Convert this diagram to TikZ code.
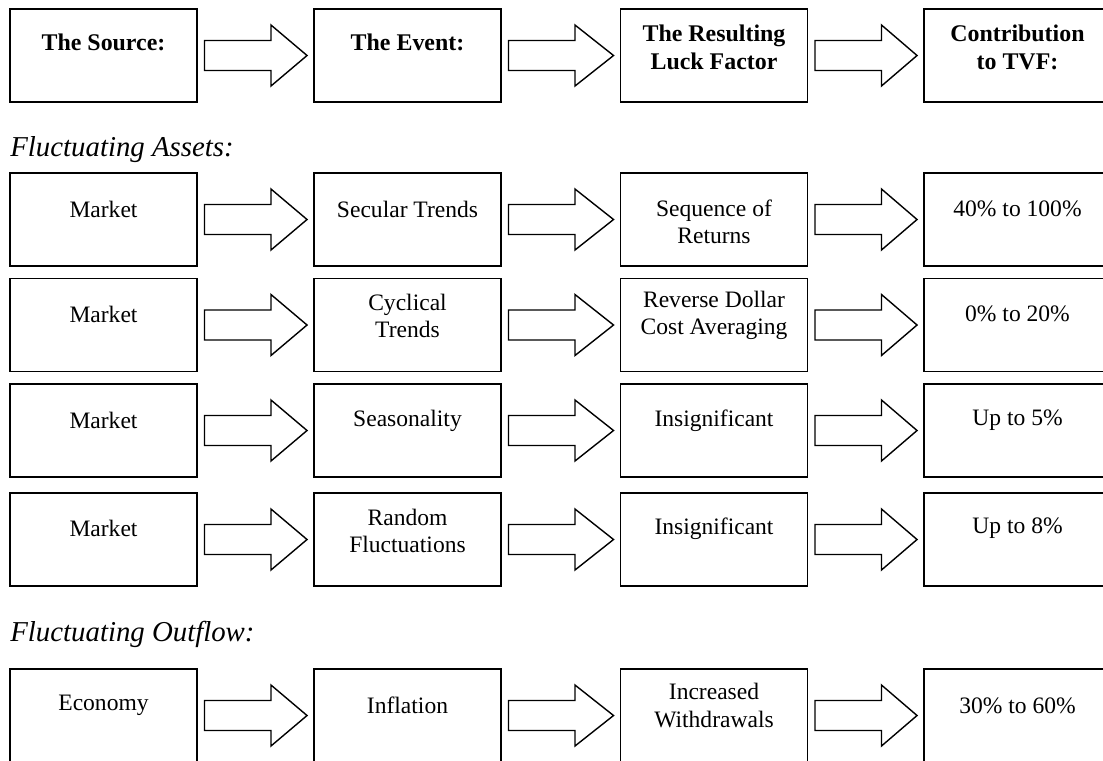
\documentclass[tikz,border=0pt]{standalone}
\usepackage{fontspec}
\setmainfont{Liberation Serif}
\usetikzlibrary{positioning,calc}

% hollow block arrow from the east side of one box to the west side of the next
\newcommand{\blockarrow}[2]{%
  \draw[barrow] ($(#1.east)+(0.13,0.3)$) -- ++(1.33,0) -- ++(0,0.31)
    -- ($(#2.west)+(-0.12,0)$) -- ($(#1.east)+(1.46,-0.61)$) -- ++(0,0.31)
    -- ($(#1.east)+(0.13,-0.3)$) -- cycle;}

\begin{document}
\begin{tikzpicture}[
    box/.style={draw=black, line width=1.1pt, minimum width=3.74cm, minimum height=1.86cm, inner sep=0pt},
    txt/.style={font=\fontsize{13.4}{15.4}\selectfont, align=center, inner sep=0pt},
    head/.style={font=\fontsize{13.6}{15.8}\selectfont\bfseries, align=center, inner sep=0pt},
    sect/.style={font=\fontsize{16.4}{19}\selectfont\itshape, anchor=base west, inner sep=0pt},
    barrow/.style={draw=black, line width=0.8pt, line join=miter}
  ]
  \useasboundingbox (0,0) rectangle (22.06,-15.2);

  % four boxes per row: source, event, luck factor, contribution
  \foreach \r/\y in {0/-1.11,1/-4.39,2/-6.50,3/-8.61,4/-10.79,5/-14.31} {
    \node[box] (s\r) at (2.07,\y) {};
    \node[box] (e\r) at (8.15,\y) {};
    \node[box] (l\r) at (14.28,\y) {};
    \node[box] (c\r) at (20.35,\y) {};
  }

  % header
  \node[head] (s0t) at ([yshift=0.27cm]s0.center) {The Source:};
  \node[head] (e0t) at ([yshift=0.27cm]e0.center) {The Event:};
  \node[head] (l0t) at ([yshift=0.16cm]l0.center) {The Resulting\\Luck Factor};
  \node[head] (c0t) at ([yshift=0.16cm]c0.center) {Contribution\\to TVF:};

  \node[sect] (assets) at (0.2,-3.13) {Fluctuating Assets:};

  \node[txt] (s1t) at ([yshift=0.2cm]s1.center) {Market};
  \node[txt] (e1t) at ([yshift=0.2cm]e1.center) {Secular Trends};
  \node[txt] (l1t) at ([yshift=-0.05cm]l1.center) {Sequence of\\Returns};
  \node[txt] (c1t) at ([yshift=0.22cm]c1.center) {40\% to 100\%};

  \node[txt] (s2t) at ([yshift=0.22cm]s2.center) {Market};
  \node[txt] (e2t) at ([yshift=0.19cm]e2.center) {Cyclical\\Trends};
  \node[txt] (l2t) at ([yshift=0.19cm]l2.center) {Reverse Dollar\\Cost Averaging};
  \node[txt] (c2t) at ([yshift=0.22cm]c2.center) {0\% to 20\%};

  \node[txt] (s3t) at ([yshift=0.2cm]s3.center) {Market};
  \node[txt] (e3t) at ([yshift=0.2cm]e3.center) {Seasonality};
  \node[txt] (l3t) at ([yshift=0.2cm]l3.center) {Insignificant};
  \node[txt] (c3t) at ([yshift=0.2cm]c3.center) {Up to 5\%};

  \node[txt] (s4t) at ([yshift=0.22cm]s4.center) {Market};
  \node[txt] (e4t) at ([yshift=0.18cm]e4.center) {Random\\Fluctuations};
  \node[txt] (l4t) at ([yshift=0.22cm]l4.center) {Insignificant};
  \node[txt] (c4t) at ([yshift=0.22cm]c4.center) {Up to 8\%};

  \node[sect] (outflow) at (0.2,-12.82) {Fluctuating Outflow:};

  \node[txt] (s5t) at ([yshift=0.2cm]s5.center) {Economy};
  \node[txt] (e5t) at ([yshift=0.2cm]e5.center) {Inflation};
  \node[txt] (l5t) at ([yshift=0.2cm]l5.center) {Increased\\Withdrawals};
  \node[txt] (c5t) at ([yshift=0.2cm]c5.center) {30\% to 60\%};

  % arrows along every row
  \foreach \r in {0,...,5} {
    \blockarrow{s\r}{e\r}
    \blockarrow{e\r}{l\r}
    \blockarrow{l\r}{c\r}
  }
\end{tikzpicture}
\end{document}
